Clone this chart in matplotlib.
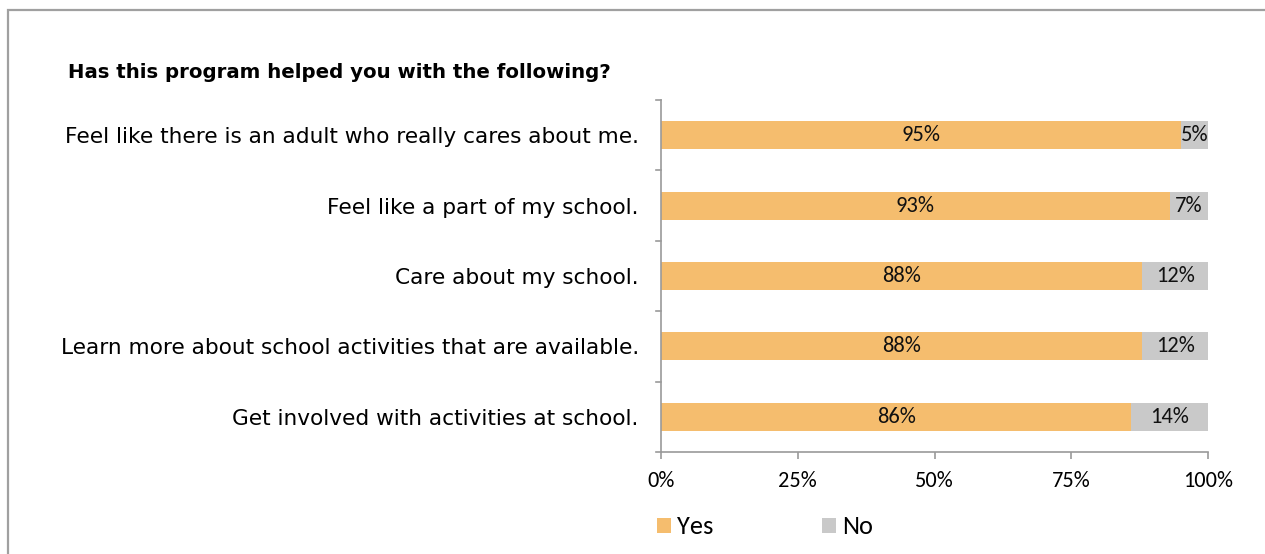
import matplotlib
matplotlib.use("Agg")
import matplotlib.pyplot as plt
from matplotlib.patches import Rectangle

categories = [
    "Feel like there is an adult who really cares about me.",
    "Feel like a part of my school.",
    "Care about my school.",
    "Learn more about school activities that are available.",
    "Get involved with activities at school.",
]
yes_pct = [95, 93, 88, 88, 86]
no_pct = [5, 7, 12, 12, 14]
x_ticks = [0, 25, 50, 75, 100]

YES_COLOR = "#F5BD6E"
NO_COLOR = "#C9C9C9"
AXIS_COLOR = "#9A9A9A"
LABEL_FONT = ["DejaVu Sans"]
NUM_FONT = ["Carlito", "IBM Plex Sans Condensed", "Liberation Sans"]

plt.rcParams["font.family"] = LABEL_FONT

fig = plt.figure(figsize=(12.65, 5.54), dpi=100)

# outer chart frame
fig.patches.append(Rectangle((8 / 1265, -0.01), 1.02, 1 - 9.5 / 554 + 0.01,
                             transform=fig.transFigure, fill=False,
                             edgecolor="#A0A0A0", linewidth=1.6))

ax = fig.add_axes([661 / 1265, 1 - 452 / 554, 547 / 1265, 352 / 554])

ypos = list(range(len(categories)))
bar_h = 0.4
ax.barh(ypos, yes_pct, height=bar_h, color=YES_COLOR, label="Yes")
ax.barh(ypos, no_pct, left=yes_pct, height=bar_h, color=NO_COLOR, label="No")

for y, yv, nv in zip(ypos, yes_pct, no_pct):
    ax.text(yv / 2, y, f"{yv}%", ha="center", va="center", fontsize=16.2,
            family=NUM_FONT, color="#111111")
    ax.text(yv + nv / 2, y, f"{nv}%", ha="center", va="center", fontsize=16.2,
            family=NUM_FONT, color="#111111")

ax.set_xlim(0, 100)
ax.set_ylim(len(categories) - 0.5, -0.5)
ax.set_xticks(x_ticks)
ax.set_xticklabels([f"{t}%" for t in x_ticks], fontsize=16, family=NUM_FONT)
ax.set_yticks(ypos)
ax.set_yticklabels(categories, fontsize=15.6)
ax.tick_params(axis="y", length=0, pad=16)
ax.tick_params(axis="x", length=5, color=AXIS_COLOR, width=1.2, pad=9)

# category separator ticks on the vertical axis
for b in [i - 0.5 for i in range(len(categories) + 1)]:
    ax.plot([-1.0, 0], [b, b], color=AXIS_COLOR, lw=1.2, clip_on=False)

for side in ["top", "right"]:
    ax.spines[side].set_visible(False)
for side in ["left", "bottom"]:
    ax.spines[side].set_color(AXIS_COLOR)
    ax.spines[side].set_linewidth(1.2)

fig.text(68 / 1265, 1 - 73 / 554, "Has this program helped you with the following?",
         fontsize=14.2, fontweight="bold", va="center", ha="left")

leg = fig.legend(loc="center", bbox_to_anchor=(765 / 1265, 1 - 527 / 554), ncol=2,
                 frameon=False, prop={"family": NUM_FONT, "size": 19},
                 handlelength=0.53, handleheight=0.5,
                 handletextpad=0.25, columnspacing=4.1)

fig.savefig("out.png", dpi=100)
